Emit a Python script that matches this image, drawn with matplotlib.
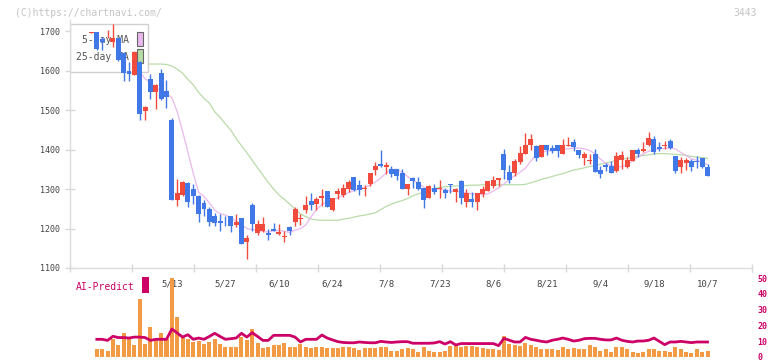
import matplotlib
matplotlib.use('Agg')
import matplotlib.pyplot as plt
from matplotlib.patches import Rectangle
import numpy as np

# daily candles (yen), oldest first; last day is 10/7
open_ = [1696, 1697, 1680, 1692, 1673, 1683, 1645, 1600, 1588, 1622,
         1497, 1578, 1546, 1594, 1549, 1474, 1273, 1286, 1315, 1299,
         1282, 1265, 1249, 1232, 1218, 1224, 1233, 1209, 1228, 1166,
         1259, 1189, 1195, 1189, 1200, 1186, 1178, 1204, 1217, 1225,
         1246, 1270, 1261, 1277, 1295, 1246, 1287, 1286, 1299, 1330,
         1310, 1299, 1312, 1348, 1363, 1356, 1350, 1350, 1341, 1301,
         1328, 1317, 1304, 1277, 1303, 1299, 1297, 1312, 1293, 1321,
         1267, 1274, 1267, 1287, 1295, 1307, 1322, 1388, 1343, 1342,
         1368, 1388, 1411, 1408, 1381, 1413, 1404, 1411, 1388, 1409,
         1419, 1398, 1380, 1370, 1390, 1348, 1362, 1358, 1345, 1373,
         1356, 1370, 1398, 1397, 1413, 1426, 1406, 1410, 1421, 1383,
         1356, 1366, 1370, 1370, 1379, 1355]
high = [1699, 1697, 1686, 1704, 1718, 1683, 1648, 1622, 1650, 1625,
        1511, 1591, 1567, 1604, 1576, 1479, 1326, 1321, 1318, 1312,
        1284, 1272, 1255, 1239, 1238, 1233, 1233, 1236, 1228, 1183,
        1265, 1221, 1229, 1200, 1215, 1211, 1195, 1207, 1255, 1238,
        1282, 1290, 1280, 1299, 1295, 1277, 1303, 1314, 1322, 1330,
        1322, 1310, 1341, 1369, 1398, 1369, 1358, 1350, 1352, 1314,
        1331, 1331, 1304, 1310, 1314, 1324, 1304, 1314, 1304, 1322,
        1301, 1293, 1291, 1307, 1320, 1332, 1328, 1402, 1360, 1377,
        1408, 1442, 1440, 1413, 1413, 1413, 1413, 1413, 1428, 1431,
        1426, 1398, 1394, 1390, 1401, 1358, 1366, 1372, 1393, 1396,
        1381, 1398, 1403, 1419, 1444, 1434, 1419, 1421, 1426, 1383,
        1381, 1380, 1376, 1383, 1379, 1363]
low = [1695, 1652, 1652, 1684, 1660, 1624, 1573, 1573, 1588, 1476,
       1476, 1529, 1504, 1525, 1506, 1273, 1256, 1282, 1255, 1261,
       1217, 1231, 1206, 1206, 1194, 1206, 1191, 1204, 1160, 1124,
       1195, 1183, 1191, 1172, 1194, 1183, 1166, 1184, 1206, 1208,
       1239, 1248, 1246, 1256, 1255, 1244, 1276, 1280, 1293, 1295,
       1286, 1282, 1307, 1335, 1356, 1337, 1331, 1322, 1299, 1286,
       1304, 1297, 1252, 1277, 1288, 1278, 1278, 1290, 1267, 1263,
       1255, 1255, 1246, 1280, 1295, 1302, 1307, 1326, 1315, 1332,
       1364, 1388, 1398, 1370, 1381, 1386, 1392, 1381, 1388, 1409,
       1397, 1380, 1360, 1364, 1343, 1328, 1346, 1340, 1343, 1352,
       1354, 1370, 1381, 1394, 1408, 1390, 1397, 1401, 1402, 1342,
       1342, 1349, 1345, 1354, 1354, 1332]
close = [1697, 1654, 1674, 1693, 1684, 1626, 1595, 1591, 1648, 1490,
         1508, 1546, 1563, 1528, 1534, 1273, 1291, 1318, 1267, 1282,
         1237, 1250, 1217, 1214, 1214, 1223, 1206, 1216, 1162, 1176,
         1211, 1211, 1211, 1183, 1195, 1190, 1180, 1195, 1249, 1228,
         1259, 1259, 1274, 1282, 1255, 1277, 1295, 1304, 1318, 1297,
         1297, 1303, 1341, 1359, 1359, 1360, 1337, 1333, 1299, 1314,
         1321, 1299, 1272, 1307, 1292, 1304, 1290, 1310, 1299, 1277,
         1291, 1267, 1291, 1299, 1320, 1322, 1328, 1349, 1322, 1370,
         1391, 1413, 1426, 1379, 1413, 1398, 1397, 1397, 1411, 1413,
         1407, 1386, 1388, 1375, 1343, 1337, 1356, 1342, 1383, 1386,
         1373, 1398, 1388, 1401, 1429, 1393, 1401, 1411, 1404, 1345,
         1373, 1373, 1356, 1368, 1356, 1332]

# moving averages as drawn on the chart
ma5 = [1700, 1690, 1685, 1680, 1675, 1665, 1650, 1630, 1612, 1597,
       1580, 1570, 1558, 1548, 1542, 1532, 1496, 1447, 1393, 1340,
       1292, 1281, 1265, 1247, 1238, 1234, 1228, 1219, 1210, 1200,
       1197, 1196, 1193, 1191, 1194, 1195, 1193, 1190, 1196, 1200,
       1209, 1230, 1248, 1261, 1268, 1273, 1278, 1284, 1291, 1296,
       1301, 1305, 1310, 1318, 1328, 1341, 1350, 1350, 1343, 1332,
       1322, 1315, 1305, 1298, 1299, 1301, 1298, 1295, 1294, 1293,
       1290, 1288, 1286, 1286, 1288, 1295, 1303, 1313, 1324, 1334,
       1343, 1353, 1371, 1387, 1392, 1397, 1397, 1399, 1401, 1402,
       1404, 1404, 1402, 1398, 1390, 1376, 1365, 1359, 1356, 1357,
       1362, 1371, 1382, 1389, 1396, 1400, 1402, 1403, 1404, 1402,
       1393, 1385, 1377, 1373, 1368, 1362]
ma25 = [1628, 1627, 1626, 1625, 1624, 1622, 1621, 1620, 1619, 1618,
        1618, 1617, 1617, 1617, 1616, 1612, 1604, 1594, 1578, 1564,
        1545, 1530, 1518, 1496, 1482, 1465, 1450, 1428, 1410, 1392,
        1373, 1354, 1335, 1317, 1300, 1285, 1274, 1262, 1250, 1237,
        1230, 1224, 1222, 1221, 1221, 1221, 1221, 1224, 1226, 1229,
        1232, 1234, 1237, 1240, 1248, 1256, 1262, 1267, 1271, 1276,
        1283, 1288, 1292, 1298, 1302, 1304, 1306, 1307, 1308, 1309,
        1309, 1310, 1310, 1311, 1311, 1311, 1311, 1311, 1311, 1311,
        1311, 1312, 1316, 1320, 1325, 1328, 1332, 1336, 1339, 1344,
        1348, 1351, 1354, 1357, 1360, 1363, 1366, 1369, 1373, 1376,
        1378, 1381, 1383, 1385, 1387, 1389, 1390, 1390, 1389, 1388,
        1387, 1385, 1383, 1381, 1380, 1378]

# volume (relative units) and AI-Predict score, from the 2nd day on
volume = [np.nan,
          83, 83, 60, 183, 120, 237, 183, 120, 583, 130,
          300, 170, 237, 177, 800, 400, 190, 177, 150, 165,
          130, 147, 180, 127, 105, 100, 100, 200, 170, 277,
          138, 90, 100, 118, 118, 138, 105, 105, 127, 105,
          95, 105, 97, 88, 88, 95, 97, 105, 88, 68,
          90, 95, 95, 105, 105, 65, 65, 85, 90, 80,
          55, 103, 60, 50, 50, 60, 110, 110, 103, 110,
          110, 105, 90, 83, 83, 66, 210, 133, 116, 110,
          143, 123, 99, 83, 83, 83, 66, 99, 83, 90,
          83, 83, 123, 99, 60, 76, 50, 96, 96, 83,
          50, 43, 50, 76, 76, 56, 56, 50, 96, 76,
          50, 36, 83, 50, 56]
ai_predict = [np.nan,
              11.2, 11.2, 10.5, 13.1, 12.3, 12.3, 12.0, 12.6, 12.6, 12.3,
              10.5, 11.2, 11.2, 11.2, 17.7, 15.2, 12.6, 14.1, 11.2, 12.0,
              11.2, 13.0, 15.0, 13.0, 11.2, 11.6, 12.0, 15.0, 12.6, 15.4,
              13.0, 10.5, 10.5, 13.7, 13.7, 13.7, 13.7, 12.6, 9.5, 11.2,
              11.2, 11.2, 13.9, 12.0, 10.8, 9.7, 9.2, 9.0, 9.0, 9.5,
              9.2, 9.0, 9.0, 9.9, 9.5, 9.2, 9.5, 9.7, 9.7, 8.7,
              8.7, 8.7, 8.7, 8.9, 9.7, 8.2, 9.7, 7.6, 8.5, 8.5,
              8.5, 8.5, 8.5, 8.5, 8.5, 7.2, 11.8, 10.6, 9.5, 9.5,
              12.4, 11.2, 10.6, 9.9, 9.5, 10.6, 11.2, 12.0, 11.2, 10.1,
              10.6, 11.6, 11.8, 11.8, 11.2, 10.8, 10.8, 12.0, 10.6, 9.9,
              9.5, 10.1, 10.1, 10.6, 12.0, 9.9, 7.8, 9.5, 9.5, 9.9,
              9.5, 9.1, 9.5, 9.5, 9.5]

date_labels = ['5/13', '5/27', '6/10', '6/24', '7/8', '7/23', '8/6', '8/21', '9/4', '9/18', '10/7']
date_index = [15, 25, 35, 45, 55, 65, 75, 85, 95, 105, 115]
price_ticks = [1100, 1200, 1300, 1400, 1500, 1600, 1700]
ai_ticks = [0, 10, 20, 30, 40, 50]

W, H = 772, 361
RED = '#f04b3c'
BLUE = '#4078e8'
MAGENTA = '#cc0066'
MONO = 'DejaVu Sans Mono'


def fx(x):
    return x / W


def fy(y):
    return 1 - y / H


fig = plt.figure(figsize=(W / 100, H / 100), dpi=100)
fig.patch.set_facecolor('white')

x = np.arange(len(close))
xlim = (-4.013, 123.3)

# --- price panel ---
ax = fig.add_axes([fx(70), fy(268), 682 / W, 248 / H])
ax.set_xlim(*xlim)
ax.set_ylim(1100, 1728.6)

o = np.array(open_)
c = np.array(close)
up = c >= o
colors = np.where(up, RED, BLUE)
body_low = np.minimum(o, c)
body_h = np.maximum(np.abs(c - o), 2)

ax.plot(x, ma25, color='#b8dca8', lw=0.9, zorder=1)
ax.plot(x, ma5, color='#eab8ee', lw=0.9, zorder=1)
ax.vlines(x, low, high, colors=colors, lw=1, zorder=3)
ax.bar(x, body_h, bottom=body_low, width=0.93, color=colors, linewidth=0, zorder=3.1)

for s in ['top', 'right']:
    ax.spines[s].set_visible(False)
for s in ['left', 'bottom']:
    ax.spines[s].set_color('#dddddd')
    ax.spines[s].set_linewidth(1)

ax.set_yticks(price_ticks)
ax.set_yticklabels([str(t) for t in price_ticks], fontsize=6, family=MONO, color='#444444')
ax.tick_params(axis='y', direction='inout', length=7, width=1, color='#d8d8d8', pad=4)

ax.set_xticks(date_index)
ax.set_xticklabels(date_labels, fontsize=6.5, family=MONO, color='#444444')
ax.tick_params(axis='x', which='major', length=0, pad=8)
ax.set_xticks(np.linspace(xlim[0], xlim[1], 12), minor=True)
ax.tick_params(axis='x', which='minor', direction='inout', length=6, width=1, color='#d8d8d8')

# legend box sits over the MA lines but under the candles
ax.add_patch(Rectangle((fx(70), fy(72)), 78 / W, 48 / H, transform=fig.transFigure,
                       facecolor='white', edgecolor='#d0d0d0', lw=1, zorder=2))
ax.text(fx(129), fy(40), '5-day MA', transform=fig.transFigure, ha='right', va='center',
        fontsize=7, family=MONO, color='#555555', zorder=2.1)
ax.text(fx(129), fy(57), '25-day MA', transform=fig.transFigure, ha='right', va='center',
        fontsize=7, family=MONO, color='#555555', zorder=2.1)
ax.add_patch(Rectangle((fx(137), fy(46)), 5.5 / W, 14.5 / H, transform=fig.transFigure,
                       facecolor='#eab8ee', edgecolor='#666666', lw=0.8, zorder=2.2))
ax.add_patch(Rectangle((fx(137), fy(63)), 5.5 / W, 14.5 / H, transform=fig.transFigure,
                       facecolor='#b8dca8', edgecolor='#666666', lw=0.8, zorder=2.2))

# --- volume / AI-Predict panel ---
ax_vol = fig.add_axes([fx(70), fy(357), 682 / W, 79 / H])
ax_vol.set_xlim(*xlim)
ax_vol.set_ylim(0, 790)
ax_vol.bar(x, volume, width=0.75, color='#f29a44', linewidth=0)
ax_vol.axis('off')

ax_ai = ax_vol.twinx()
ax_ai.set_xlim(*xlim)
ax_ai.set_ylim(0, 50)
ax_ai.plot(x, ai_predict, color=MAGENTA, lw=2)
for s in ax_ai.spines.values():
    s.set_visible(False)
ax_ai.set_yticks(ai_ticks)
ax_ai.set_yticklabels([str(t) for t in ai_ticks], fontsize=6, family=MONO,
                      color=MAGENTA, fontweight='bold')
ax_ai.tick_params(axis='y', length=0, pad=4)
ax_ai.set_xticks([])

fig.text(fx(76), fy(286.5), 'AI-Predict', ha='left', va='center', fontsize=7,
         family=MONO, color=MAGENTA)
fig.patches.append(Rectangle((fx(142), fy(293)), 7 / W, 16 / H, transform=fig.transFigure,
                             facecolor=MAGENTA, edgecolor='none', figure=fig))

fig.text(fx(15), fy(12.5), '(C)https://chartnavi.com/', ha='left', va='center',
         fontsize=7, family=MONO, color='#c4c4c4')
fig.text(fx(757), fy(12.5), '3443', ha='right', va='center',
         fontsize=7, family=MONO, color='#c4c4c4')

fig.savefig('out.png', dpi=100)
